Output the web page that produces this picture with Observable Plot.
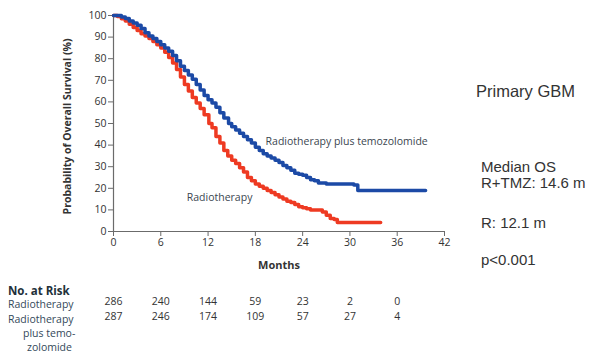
<!DOCTYPE html>
<html>
<head>
<meta charset="utf-8">
<script src="https://cdn.jsdelivr.net/npm/d3@7"></script>
<script src="https://cdn.jsdelivr.net/npm/@observablehq/plot@0.6"></script>
<style>
  body { margin: 0; background: #fff; }
  #wrap { position: relative; width: 597px; height: 359px; overflow: hidden; font-family: "Open Sans", sans-serif; }
  #wrap svg { position: absolute; left: 0; top: 0; }
  .rt { position: absolute; font-family: "Liberation Sans", Arial, sans-serif; color: #333; font-size: 15px; white-space: nowrap; line-height: 1; }
  .rl { position: absolute; font-family: "Open Sans", sans-serif; color: #34495a; font-size: 10.5px; white-space: nowrap; line-height: 1; }
</style>
</head>
<body>
<div id="wrap"></div>
<script>
// Kaplan-Meier estimates (month, % surviving)
const tmzMonths = [0,0.5,1,1.5,2,2.5,3,3.5,4,4.5,5,5.5,6,6.5,7,7.5,8,8.5,9,9.5,10,10.5,11,11.5,12,12.5,13,13.5,14,14.6,15,15.5,16,16.5,17,17.5,18,18.5,19,19.5,20,20.5,21,21.5,22,22.5,23,23.5,24,24.5,25,25.5,26,27,28,29,30,30.5,31,35,39.6];
const tmzSurv   = [100,100,99.3,98.6,97.5,96.5,95.5,94,92,90.5,89.3,88,86.5,85,83.5,81.5,79,76.5,74.5,72.5,70.5,68,65.5,63,61,59.5,57.5,55,52.5,50,48.5,47,45.5,44,42.5,41,39,37.5,36,35,34,33,32,30.5,29.5,28.3,27,26.5,26,25,24,23.5,22.5,22,22,22,22,21.5,19,19,19];
const rtMonths  = [0,0.5,1,1.5,2,2.5,3,3.5,4,4.5,5,5.5,6,6.5,7,7.5,8,8.5,9,9.5,10,10.5,11,11.5,12.1,12.5,13,13.5,14,14.5,15,15.5,16,16.5,17,17.5,18,18.5,19,19.5,20,20.5,21,21.5,22,22.5,23,23.5,24,24.5,25,26,26.5,27,27.5,28,28.4,30,33.9];
const rtSurv    = [100,99.5,98.5,97.5,96,94.5,93,91.5,90.5,89.3,88,86.5,85,83,80.5,78,75,71.5,68,65,62,59.5,57,54,50,48,44,41,37.5,35,33,31.5,29.5,27.5,25,23.5,22,21,20,19,18,17,16,15,14,13.4,12.5,11.5,11,10.5,10,10,9,7.5,6,5.5,4.2,4.2,4.2];

const xTicks = [0,6,12,18,24,30,36,42];
const yTicks = [0,10,20,30,40,50,60,70,80,90,100];
const riskMonths = [0,6,12,18,24,30,36];
const riskRT  = [286,240,144,59,23,2,0];
const riskTMZ = [287,246,174,109,57,27,4];
const seriesNames = ["Radiotherapy", "Radiotherapy plus temozolomide"];

const tmz = tmzMonths.map((m,i) => ({m, s: tmzSurv[i]}));
const rt  = rtMonths.map((m,i) => ({m, s: rtSurv[i]}));
const riskRows = riskMonths.map((m,i) => ({m, rt: riskRT[i], tmz: riskTMZ[i]}));

const BLUE = "#1c4aa6", RED = "#ee3a22", AXIS = "#6b6b6b", TXT = "#333";

const chart = Plot.plot({
  width: 597, height: 359,
  marginLeft: 113, marginRight: 153, marginTop: 15, marginBottom: 128,
  style: {fontFamily: "Open Sans, sans-serif", fontSize: "10px", color: TXT, background: "transparent", overflow: "visible"},
  x: {domain: [0, 42]},
  y: {domain: [0, 100]},
  marks: [
    Plot.ruleX([0], {stroke: AXIS, strokeWidth: 1.2}),
    Plot.ruleY([0], {stroke: AXIS, strokeWidth: 1.2}),
    Plot.axisX({ticks: xTicks, tickSize: 5, tickPadding: 2, label: null, stroke: AXIS, fill: TXT, fontSize: 10.5}),
    Plot.axisY({ticks: yTicks, tickSize: 5, tickPadding: 2, label: null, stroke: AXIS, fill: TXT, fontSize: 10.5}),
    Plot.line(rt,  {x: "m", y: "s", curve: "step-after", stroke: RED,  strokeWidth: 3.5}),
    Plot.line(tmz, {x: "m", y: "s", curve: "step-after", stroke: BLUE, strokeWidth: 3.5}),
    Plot.text([seriesNames[1]], {x: 19.3, y: 41.7, text: d => d, textAnchor: "start", fill: "#3b4650", fontSize: 10.5}),
    Plot.text([seriesNames[0]], {x: 9.3, y: 15.7, text: d => d, textAnchor: "start", fill: "#3b4650", fontSize: 10.5}),
    Plot.text(["Probability of Overall Survival (%)"], {frameAnchor: "left", textAnchor: "middle", rotate: -90, dx: -46, dy: 3, fontWeight: "bold", fontSize: 10.5, fill: TXT}),
    Plot.text(["Months"], {frameAnchor: "bottom", dy: 37, fontWeight: "bold", fontSize: 11, fill: TXT}),
    Plot.text(riskRows, {x: "m", frameAnchor: "bottom", dy: 73, text: d => String(d.rt), fontSize: 10.5, fill: TXT}),
    Plot.text(riskRows, {x: "m", frameAnchor: "bottom", dy: 88, text: d => String(d.tmz), fontSize: 10.5, fill: TXT})
  ]
});

const wrap = document.getElementById("wrap");
wrap.appendChild(chart);

const html = `
  <div class="rt" style="left:476px; top:83px; font-size:16.5px;">Primary GBM</div>
  <div class="rt" style="left:481px; top:159px;">Median OS</div>
  <div class="rt" style="left:481px; top:175px;">R+TMZ: 14.6 m</div>
  <div class="rt" style="left:481px; top:215px;">R: 12.1 m</div>
  <div class="rt" style="left:481px; top:252px;">p&lt;0.001</div>
  <div class="rl" style="left:8px; top:285px; font-weight:bold; font-size:11.5px; color:#22303a;">No. at Risk</div>
  <div class="rl" style="left:8px; top:299px;">Radiotherapy</div>
  <div class="rl" style="left:8px; top:314px;">Radiotherapy</div>
  <div class="rl" style="left:23px; top:328px;">plus temo-</div>
  <div class="rl" style="left:27px; top:342px;">zolomide</div>
`;
wrap.insertAdjacentHTML("beforeend", html);
</script>
</body>
</html>
